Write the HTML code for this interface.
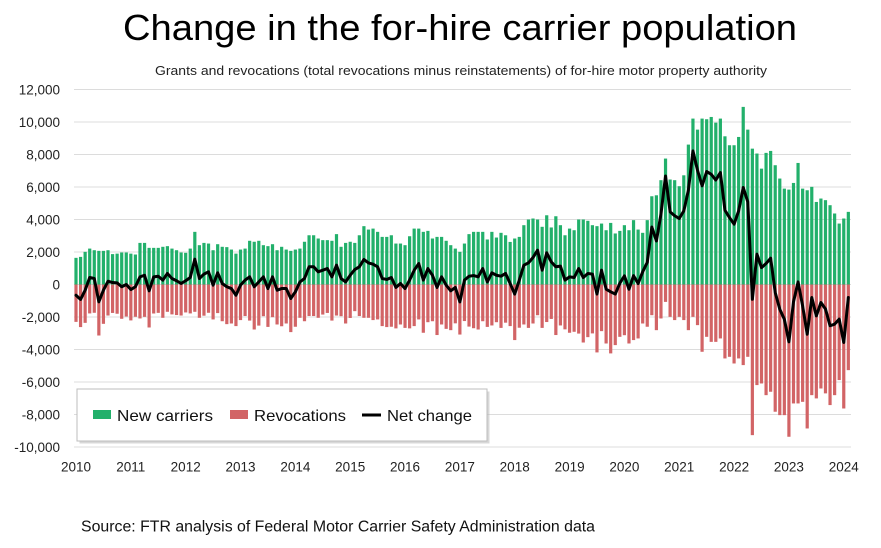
<!DOCTYPE html>
<html>
<head>
<meta charset="utf-8">
<style>
  html,body{margin:0;padding:0;background:#fff;}
  body{width:881px;height:548px;overflow:hidden;}
  svg{display:block;font-family:"Liberation Sans",Arial,sans-serif;}
</style>
</head>
<body>
<svg id="chart" width="881" height="548" viewBox="0 0 881 548" xmlns="http://www.w3.org/2000/svg">
  <rect x="0" y="0" width="881" height="548" fill="#ffffff"/>
  <text x="123" y="40" font-size="36" fill="#000" textLength="674" lengthAdjust="spacingAndGlyphs">Change in the for-hire carrier population</text>
  <text x="155" y="75" font-size="12.5" fill="#222" textLength="612" lengthAdjust="spacingAndGlyphs">Grants and revocations (total revocations minus reinstatements) of for-hire motor property authority</text>

  <g id="grid" stroke="#dcdcdc" stroke-width="1"></g>
  <g id="ylabels" font-size="13.5" fill="#222" text-anchor="end">
    <text x="60" y="94.5">12,000</text>
    <text x="60" y="127">10,000</text>
    <text x="60" y="159.5">8,000</text>
    <text x="60" y="192">6,000</text>
    <text x="60" y="224.5">4,000</text>
    <text x="60" y="257">2,000</text>
    <text x="60" y="289.5">0</text>
    <text x="60" y="322">-2,000</text>
    <text x="60" y="354.5">-4,000</text>
    <text x="60" y="387">-6,000</text>
    <text x="60" y="419.5">-8,000</text>
    <text x="60" y="452">-10,000</text>
  </g>
  <g id="bars"></g>
  <polyline id="net" fill="none" stroke="#000" stroke-width="3" stroke-linejoin="round" stroke-linecap="round" points=""/>
  <g id="xlabels" font-size="13.5" fill="#222" text-anchor="middle">
    <text x="76" y="471.5">2010</text>
    <text x="130.8" y="471.5">2011</text>
    <text x="185.7" y="471.5">2012</text>
    <text x="240.5" y="471.5">2013</text>
    <text x="295.4" y="471.5">2014</text>
    <text x="350.2" y="471.5">2015</text>
    <text x="405" y="471.5">2016</text>
    <text x="459.9" y="471.5">2017</text>
    <text x="514.7" y="471.5">2018</text>
    <text x="569.6" y="471.5">2019</text>
    <text x="624.4" y="471.5">2020</text>
    <text x="679.2" y="471.5">2021</text>
    <text x="734.1" y="471.5">2022</text>
    <text x="788.9" y="471.5">2023</text>
    <text x="843.8" y="471.5">2024</text>
  </g>

  <!-- legend -->
  <rect x="79.5" y="391.5" width="410" height="52" fill="#b8b8b8" opacity="0.55"/>
  <rect x="77" y="389" width="410" height="52" fill="#ffffff" stroke="#bdbdbd" stroke-width="1"/>
  <rect x="93" y="410" width="18" height="9" fill="#22b06b"/>
  <text x="117" y="421" font-size="16" fill="#111" textLength="96" lengthAdjust="spacingAndGlyphs">New carriers</text>
  <rect x="230" y="410" width="18" height="9" fill="#d26466"/>
  <text x="254" y="421" font-size="16" fill="#111" textLength="92" lengthAdjust="spacingAndGlyphs">Revocations</text>
  <line x1="362" y1="415" x2="381" y2="415" stroke="#000" stroke-width="3"/>
  <text x="387" y="421" font-size="16" fill="#111" textLength="85" lengthAdjust="spacingAndGlyphs">Net change</text>

  <text x="81" y="531.5" font-size="15.5" fill="#111" textLength="514" lengthAdjust="spacingAndGlyphs">Source: FTR analysis of Federal Motor Carrier Safety Administration data</text>
</svg>
<script>
(function(){
  var NS="http://www.w3.org/2000/svg";
  var zero=284.5, s=32.5/2000, x0=76, step=4.57, bw=3.2;
  var grid=document.getElementById("grid");
  for(var v=12000; v>=-10000; v-=2000){
    var y=zero - v*s;
    var l=document.createElementNS(NS,"line");
    l.setAttribute("x1",74);l.setAttribute("x2",851);
    l.setAttribute("y1",y);l.setAttribute("y2",y);
    grid.appendChild(l);
  }
  var G=[1640,1700,2010,2210,2110,2070,2070,2110,1870,1900,1970,1970,1900,1845,2560,2560,2255,2255,2255,2320,2360,2210,2110,1970,1950,2210,3240,2420,2560,2520,2110,2480,2320,2300,
  2150,1900,2150,2210,2690,2630,2690,2420,2360,2480,2110,2320,2150,2070,2150,2210,2630,3030,3030,2830,2730,2730,2690,3100,2320,2560,2630,2560,3030,3590,3380,3440,3240,
  2930,2930,3030,2520,2520,2420,2970,3440,3440,3240,3300,2830,2930,2930,2690,2420,2210,2010,2520,3100,3240,3240,3240,2770,3240,2890,3180,3030,2620,2830,2930,3650,4000,4060,4000,
  3550,4260,3510,4200,3650,3030,3440,3340,4000,4000,3920,3650,3590,
  3750,3340,3790,3140,3300,3650,3340,3960,3380,3180,3960,5430,5490,6420,7750,6460,6420,6050,6720,8610,10210,9530,10210,10170,10310,9960,10210,9120,8570,8570,9080,10930,9530,8360,8060,7130,8100,8220,7340,6520,5900,5840,6250,7480,5900,5800,6010,5080,5290,5190,4880,4370,3750,4060,4470];
  var N=[-660,-920,-350,430,370,-1070,-350,200,120,100,-140,0,-310,-140,470,570,-390,470,510,270,680,370,230,60,230,430,1560,370,640,780,-40,720,60,-140,
  -250,-660,-40,270,470,-140,160,470,-250,470,-350,-250,-250,-860,-450,160,370,1090,1090,780,880,980,470,1190,370,160,570,920,1090,1540,1330,1250,1090,
  370,310,430,-180,60,-250,270,880,1290,270,980,570,-180,470,-40,-390,-180,-1070,270,510,550,470,980,160,720,570,510,680,60,-590,270,1190,1330,1660,2110,
  880,1950,1390,1090,1130,270,470,430,980,430,680,640,-590];
  var R2=[-2870,-3630,-4240,-3730,-3220,-3120,-3630,-3420,-3320,-2400,-2600,-1890,-2810,-2090,-1070,-1990,-2190,-1990,-2190,-2810,-1990,-2500,-4140,-3220,-3530,-3530,-3320,-4550,-4450,-4860,-4550,-4960,-4450,-9270,-6190,-6090,-6810,-6600,-7830,-8040,-8040,-9370,-7320,-7320,-7220,-8860,-6810,-7010,-6400,-6700,-7420,-6810,-5880,-7630,-5270];
  var bars=document.getElementById("bars");
  var pts=[];
  for(var i=0;i<G.length;i++){
    var g=G[i], r;
    if(i<N.length){ r=N[i]-g; } else { r=R2[i-N.length]; }
    if(r===undefined||isNaN(r)) r=-2500;
    var net=g+r;
    var cx=x0+step*i;
    var gr=document.createElementNS(NS,"rect");
    gr.setAttribute("x",(cx-bw/2).toFixed(2));
    gr.setAttribute("y",(zero-g*s).toFixed(2));
    gr.setAttribute("width",bw);
    gr.setAttribute("height",(g*s).toFixed(2));
    gr.setAttribute("fill","#22b06b");
    bars.appendChild(gr);
    var rr=document.createElementNS(NS,"rect");
    rr.setAttribute("x",(cx-bw/2).toFixed(2));
    rr.setAttribute("y",zero);
    rr.setAttribute("width",bw);
    rr.setAttribute("height",(-r*s).toFixed(2));
    rr.setAttribute("fill","#d26466");
    bars.appendChild(rr);
    pts.push(cx.toFixed(2)+","+(zero-net*s).toFixed(2));
  }
  document.getElementById("net").setAttribute("points",pts.join(" "));
})();
</script>
</body>
</html>
